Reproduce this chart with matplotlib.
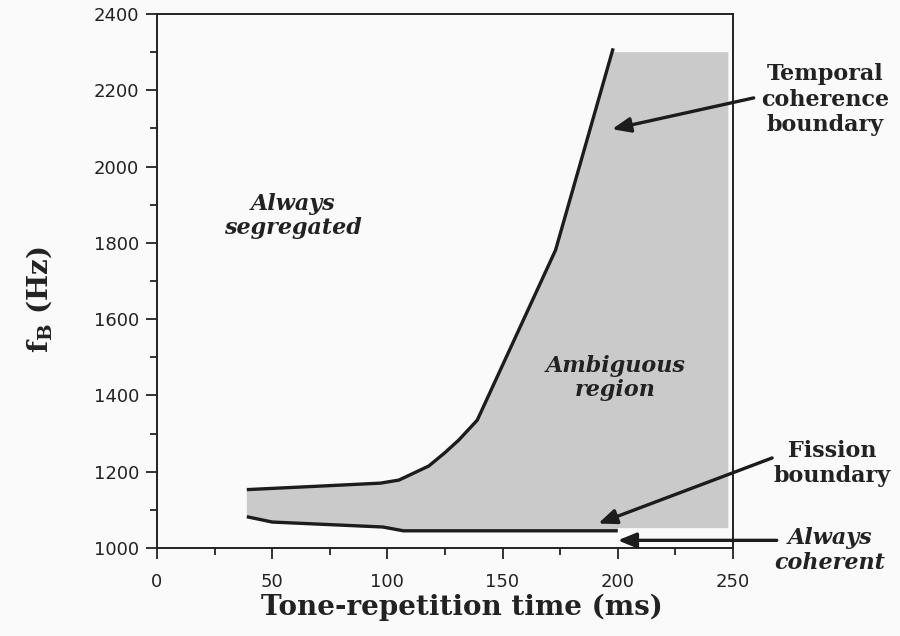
import numpy as np
import matplotlib.pyplot as plt
from matplotlib.ticker import MultipleLocator

# temporal coherence boundary (upper) and fission boundary (lower)
tcb_x = [39, 70, 97, 105, 111, 118, 125, 131, 139, 173, 198]
tcb_y = [1153, 1162, 1170, 1178, 1195, 1215, 1250, 1283, 1335, 1781, 2310]
fis_x = [39, 50, 98, 107, 200]
fis_y = [1082, 1068, 1055, 1045, 1045]

# shaded block to the right of the coherence boundary
block_x = [198, 248, 248, 200]
block_y = [2300, 2300, 1052, 1052]

serif = "DejaVu Serif"
sans = "DejaVu Sans"
plt.rcParams["mathtext.fontset"] = "dejavuserif"

fig = plt.figure(figsize=(9, 6.36), dpi=100, facecolor="#fbfafb")
ax = fig.add_axes([0.1744, 0.1384, 0.64, 0.8396])
ax.set_facecolor("#fbfafb")

# gray ambiguous region
poly_x = np.concatenate([tcb_x, block_x, fis_x[::-1]])
poly_y = np.concatenate([tcb_y, block_y, fis_y[::-1]])
ax.fill(poly_x, poly_y, color="#cbcacb", lw=0, zorder=1)

ax.plot(tcb_x, tcb_y, color="#1c1c1c", lw=2.4, solid_capstyle="butt", zorder=3)
ax.plot(fis_x, fis_y, color="#1c1c1c", lw=2.4, solid_capstyle="butt", zorder=3)

ax.set_xlim(0, 250)
ax.set_ylim(1000, 2400)
ax.xaxis.set_major_locator(MultipleLocator(50))
ax.xaxis.set_minor_locator(MultipleLocator(25))
ax.yaxis.set_major_locator(MultipleLocator(200))
ax.yaxis.set_minor_locator(MultipleLocator(100))
ax.tick_params(which="major", direction="out", length=8, width=1.3, color="#222222",
               labelsize=13, labelcolor="#222222")
ax.tick_params(axis="x", which="major", pad=10)
ax.tick_params(axis="y", which="major", pad=5)
ax.tick_params(which="minor", direction="out", length=5, width=1.3, color="#222222")
for lab in ax.get_xticklabels() + ax.get_yticklabels():
    lab.set_fontfamily(sans)
for sp in ax.spines.values():
    sp.set_linewidth(1.4)
    sp.set_color("#222222")

ax.set_xlabel("Tone-repetition time (ms)", fontfamily=serif, fontweight="bold",
              fontsize=20, color="#222222")
ax.set_ylabel(r"$\mathbf{f_B}$ (Hz)", fontfamily=serif, fontweight="bold",
              fontsize=20, color="#222222")
ax.xaxis.set_label_coords(0.53, -0.085)
ax.yaxis.set_label_coords(-0.178, 0.465)

# region labels
ax.text(59, 1870, "Always\nsegregated", fontfamily=serif, style="italic", fontweight="bold",
        fontsize=16, ha="center", va="center", linespacing=1.15, color="#222222")
ax.text(199, 1446, "Ambiguous\nregion", fontfamily=serif, style="italic", fontweight="bold",
        fontsize=16, ha="center", va="center", linespacing=1.15, color="#222222", zorder=4)

# annotations with arrows
arrow = dict(arrowstyle="-|>,head_length=1.1,head_width=0.45", color="#1c1c1c", lw=2.4,
             shrinkA=0, shrinkB=0)
ax.annotate("", xy=(197.5, 2098), xytext=(259, 2180), arrowprops=arrow,
            annotation_clip=False, zorder=5)
ax.annotate("", xy=(191.5, 1064), xytext=(267, 1236), arrowprops=arrow,
            annotation_clip=False, zorder=5)
ax.annotate("", xy=(200, 1020), xytext=(269, 1020), arrowprops=arrow,
            annotation_clip=False, zorder=5)

ax.text(290, 2175, "Temporal\ncoherence\nboundary", fontfamily=serif, fontweight="bold",
        fontsize=16, ha="center", va="center", linespacing=1.2, color="#222222",
        clip_on=False)
ax.text(293, 1222, "Fission\nboundary", fontfamily=serif, fontweight="bold",
        fontsize=16, ha="center", va="center", linespacing=1.2, color="#222222",
        clip_on=False)
ax.text(292, 993, "Always\ncoherent", fontfamily=serif, style="italic", fontweight="bold",
        fontsize=16, ha="center", va="center", linespacing=1.2, color="#222222",
        clip_on=False)

fig.savefig("out.png", dpi=100, facecolor=fig.get_facecolor())
